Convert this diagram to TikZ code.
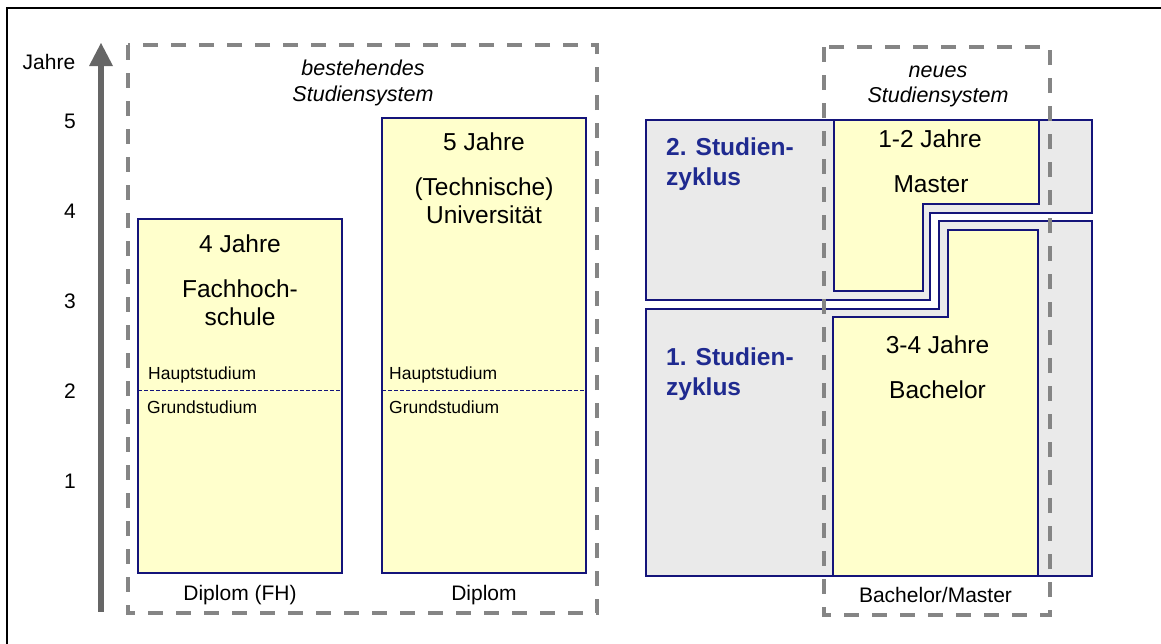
\documentclass[tikz,border=0pt]{standalone}
\usepackage{fontspec}
\setmainfont{Liberation Sans}
\definecolor{boxfill}{HTML}{FFFFCC}
\definecolor{navyline}{HTML}{14147A}
\definecolor{cyclefill}{HTML}{EAEAEA}
\definecolor{dashgray}{HTML}{858585}
\definecolor{arrowgray}{HTML}{666666}
\definecolor{cycletext}{HTML}{1F2A90}
\tikzset{
  sysbox/.style={draw=dashgray, line width=4.3pt, dash pattern=on 15pt off 13pt},
  yearbox/.style={draw=navyline, fill=boxfill, line width=1.5pt},
  cyclebox/.style={draw=navyline, fill=cyclefill, line width=1.5pt, line join=miter},
  divline/.style={draw=navyline, line width=1pt, dash pattern=on 4pt off 2pt},
  txt/.style={inner sep=0pt, anchor=base},
  bigtxt/.style={txt, font=\fontsize{24.5}{28}\selectfont},
  midtxt/.style={txt, font=\fontsize{21}{25}\selectfont},
  systxt/.style={txt, font=\fontsize{21.5}{25}\selectfont\itshape},
  smalltxt/.style={txt, anchor=base west, font=\fontsize{17.5}{20}\selectfont},
  cycletxt/.style={txt, anchor=base west, text=cycletext, font=\fontsize{24.5}{28}\selectfont\bfseries},
}
\begin{document}
\begin{tikzpicture}[x=1pt, y=-1pt]
\useasboundingbox (0,0) rectangle (1161,643);
% frame
\draw[line width=2.2pt, black] (7,660) -- (7,8) -- (1170,8);
% axis arrow
\fill[arrowgray] (98,612) rectangle (104,64);
\fill[arrowgray] (89,66) -- (101,43) -- (113,66) -- cycle;
\node[midtxt] (jahre) at (49,69) {Jahre};
\node[midtxt] (y5) at (70,128) {5};
\node[midtxt] (y4) at (70,218) {4};
\node[midtxt] (y3) at (70,308) {3};
\node[midtxt] (y2) at (70,398) {2};
\node[midtxt] (y1) at (70,488) {1};
% left boxes
\draw[yearbox] (138,219) rectangle (342,573);
\draw[yearbox] (382,118) rectangle (586,573);
\draw[divline] (138,390) -- (342,390);
\draw[divline] (382,390) -- (586,390);
\node[bigtxt] (fh1) at (240,252) {4 Jahre};
\node[bigtxt] (fh2) at (240,297) {Fachhoch-};
\node[bigtxt] (fh3) at (240,325) {schule};
\node[bigtxt] (u1) at (484,150) {5 Jahre};
\node[bigtxt] (u2) at (484,195) {(Technische)};
\node[bigtxt] (u3) at (484,223) {Universität};
\node[smalltxt] (hs1) at (148,379) {Hauptstudium};
\node[smalltxt] (gs1) at (147,413) {Grundstudium};
\node[smalltxt] (hs2) at (389,379) {Hauptstudium};
\node[smalltxt] (gs2) at (389,413) {Grundstudium};
\node[midtxt] (d1) at (240,600) {Diplom (FH)};
\node[midtxt] (d2) at (484,600) {Diplom};
% right side cycles
\draw[cyclebox] (646,120) -- (1092,120) -- (1092,213) -- (930,213) -- (930,300) -- (646,300) -- cycle;
\draw[cyclebox] (646,309) -- (939,309) -- (939,221) -- (1092,221) -- (1092,576) -- (646,576) -- cycle;
\draw[yearbox] (834,120) -- (1039,120) -- (1039,204) -- (923,204) -- (923,291) -- (834,291) -- cycle;
\draw[yearbox] (833,317) -- (948,317) -- (948,230) -- (1038,230) -- (1038,576) -- (833,576) -- cycle;
% system boxes
\draw[sysbox] (128,45) rectangle (597,613);
\draw[sysbox] (824,47) rectangle (1050,615);
\node[systxt] (s1a) at (363,75) {bestehendes};
\node[systxt] (s1b) at (363,101) {Studiensystem};
\node[systxt] (s2a) at (938,77) {neues};
\node[systxt] (s2b) at (938,102) {Studiensystem};
% cycle texts
\node[cycletxt] (c2a) at (666,155) {2. Studien-};
\node[cycletxt] (c2b) at (666,185) {zyklus};
\node[cycletxt] (c1a) at (666,365) {1. Studien-};
\node[cycletxt] (c1b) at (666,395) {zyklus};
\node[bigtxt] (m1) at (930,147) {1-2 Jahre};
\node[bigtxt] (m2) at (931,192) {Master};
\node[bigtxt] (b1) at (937.5,353) {3-4 Jahre};
\node[bigtxt] (b2) at (937.5,398) {Bachelor};
\node[midtxt] (bm) at (935.5,602) {Bachelor/Master};
\end{tikzpicture}
\end{document}
